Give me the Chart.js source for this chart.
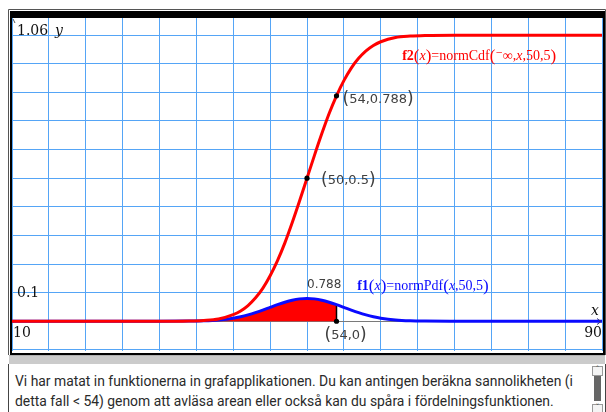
<!DOCTYPE html>
<html>
<head>
<meta charset="utf-8">
<script src="https://cdn.jsdelivr.net/npm/chart.js@4/dist/chart.umd.min.js"></script>
<style>
  html, body { margin: 0; padding: 0; background: #fff; }
  #wrap { position: relative; width: 606px; height: 412px; overflow: hidden; background: #fff; }
  #graph { position: absolute; left: 0; top: 0; }
  #band { position: absolute; left: 9px; top: 355px; width: 596px; height: 9px; background: #cbcbcb; border-top: 1px solid #b0b0b0; box-sizing: border-box; }
  #panel { position: absolute; left: 8px; top: 364px; width: 598px; height: 48px; border-left: 1px solid #444; border-right: 1px solid #444; box-sizing: border-box; background: #fff; }
  #note { position: absolute; left: 6px; top: 7px; width: 570px; font: 13.9px Roboto, "Noto Sans", sans-serif; line-height: 20px; color: #2a2a2a; white-space: nowrap; }
  #scroll { position: absolute; left: 583px; top: 2px; width: 11px; height: 46px; }
  .arrow { position: absolute; left: 0; width: 9px; height: 8px; border: 1px solid #9a9a9a; background: #f4f4f4; font: 8px "DejaVu Sans", sans-serif; line-height: 8px; text-align: center; color: #555; }
  #thumb { position: absolute; left: 2px; top: 10px; width: 7px; height: 25px; background: #666; }
</style>
</head>
<body>
<div id="wrap">
  <canvas id="graph" width="606" height="355"></canvas>
  <div id="band"></div>
  <div id="panel">
    <div id="note">Vi har matat in funktionerna in grafapplikationen. Du kan antingen beräkna sannolikheten (i<br>detta fall &lt; 54) genom att avläsa arean eller också kan du spåra i fördelningsfunktionen.</div>
    <div id="scroll">
      <div class="arrow" style="top:0">&#710;</div>
      <div id="thumb"></div>
      <div class="arrow" style="top:38px">&#711;</div>
    </div>
  </div>
</div>
<script>
// Window of the graph
const xMin = 10, xMax = 90;
const yMin = -0.104, yMax = 1.06;
const xGridTicks = [10, 15, 20, 25, 30, 35, 40, 45, 50, 55, 60, 65, 70, 75, 80, 85, 90];
const yGridTicks = [-0.1, 0, 0.1, 0.2, 0.3, 0.4, 0.5, 0.6, 0.7, 0.8, 0.9, 1.0];

// Sampled curve values: f2 = normCdf(-inf, x, 50, 5), f1 = normPdf(x, 50, 5)
const xs  = [10, 20, 30, 34, 36, 38, 40, 41, 42, 43, 44, 45, 46, 47, 48, 49, 50,
             51, 52, 53, 54, 55, 56, 57, 58, 59, 60, 62, 64, 66, 70, 80, 90];
const cdf = [0, 0, 0, 0.001, 0.003, 0.008, 0.023, 0.036, 0.055, 0.081, 0.115, 0.159, 0.212, 0.274, 0.345, 0.421, 0.5,
             0.579, 0.655, 0.726, 0.788, 0.841, 0.885, 0.919, 0.945, 0.964, 0.977, 0.992, 0.997, 0.999, 1, 1, 1];
const pdf = [0, 0, 0, 0.0005, 0.0016, 0.0045, 0.0108, 0.0158, 0.0222, 0.0299, 0.0388, 0.0484, 0.0579, 0.0666, 0.0737, 0.0782, 0.0798,
             0.0782, 0.0737, 0.0666, 0.0579, 0.0484, 0.0388, 0.0299, 0.0222, 0.0158, 0.0108, 0.0045, 0.0016, 0.0005, 0, 0, 0];

// Shaded area bound and its value
const areaUpper = 54;
const areaValue = 0.788;

// Traced points
const tracePts = [
  { x: 54, y: 0.788 },
  { x: 50, y: 0.5 },
  { x: 54, y: 0 }
];

const RED = '#ff0000', BLUE = '#0a0aff', GRID = '#55a5f6';

const pts = (ys) => xs.map((x, i) => ({ x, y: ys[i] }));
const areaPts = xs.map((x, i) => ({ x, y: pdf[i] })).filter(p => p.x <= areaUpper);
const pdfAtUpper = pdf[xs.indexOf(areaUpper)];

function rich(ctx, x, y, parts, color) {
  ctx.fillStyle = color;
  ctx.textBaseline = 'alphabetic';
  ctx.textAlign = 'left';
  for (const [font, t, dy] of parts) {
    ctx.font = font;
    ctx.fillText(t, x, y + (dy || 0));
    x += ctx.measureText(t).width;
  }
  return x;
}

const SERIF = '"Liberation Serif", "DejaVu Serif", serif';
const decor = {
  id: 'decor',
  beforeDatasetsDraw(chart) {
    const { ctx, chartArea: a, scales: { y } } = chart;
    const y0 = Math.round(y.getPixelForValue(0)) + 0.5;
    ctx.save();
    // x axis
    ctx.strokeStyle = '#7a7a7a';
    ctx.lineWidth = 1.2;
    ctx.beginPath();
    ctx.moveTo(a.left, y0); ctx.lineTo(a.right - 1, y0);
    ctx.stroke();
    ctx.restore();
  },
  afterDatasetsDraw(chart) {
    const { ctx, chartArea: a, scales: { x, y } } = chart;
    ctx.save();
    // axis arrow heads
    const y0 = Math.round(y.getPixelForValue(0)) + 0.5;
    ctx.strokeStyle = '#303080';
    ctx.lineWidth = 1;
    ctx.beginPath();
    ctx.moveTo(a.right - 5, y0 - 3); ctx.lineTo(a.right - 1, y0); ctx.lineTo(a.right - 5, y0 + 3);
    ctx.stroke();
    ctx.strokeStyle = '#555';
    ctx.beginPath();
    ctx.moveTo(a.left + 1, a.top + 1); ctx.lineTo(a.left + 3, a.top + 5);
    ctx.stroke();

    // window labels
    ctx.fillStyle = '#111';
    ctx.font = '14px "DejaVu Serif", serif';
    ctx.textBaseline = 'middle';
    ctx.textAlign = 'left';
    ctx.fillText('1.06', a.left + 5, a.top + 13);
    ctx.fillText('0.1', a.left + 5, y.getPixelForValue(0.1) + 1);
    ctx.fillText('10', a.left + 1, y.getPixelForValue(0) + 12);
    ctx.textAlign = 'right';
    ctx.fillText('90', a.right, y.getPixelForValue(0) + 12);
    ctx.font = 'italic 14px "DejaVu Serif", serif';
    ctx.textAlign = 'left';
    ctx.fillText('y', a.left + 43, a.top + 13);
    ctx.fillText('x', a.right - 11, y.getPixelForValue(0) - 10);

    // traced point labels
    ctx.fillStyle = '#404040';
    const lab = (p, px, py) => {
      const L = '17px "DejaVu Sans", sans-serif', S = '13px "DejaVu Sans", sans-serif';
      ctx.textBaseline = 'middle';
      let cx = px;
      for (const [f, t] of [[L, '('], [S, p.x + ',' + p.y], [L, ')']]) {
        ctx.font = f; ctx.fillText(t, cx, py); cx += ctx.measureText(t).width;
      }
    };
    const P = tracePts;
    lab(P[0], x.getPixelForValue(P[0].x) + 6, y.getPixelForValue(P[0].y) + 4);
    lab(P[1], x.getPixelForValue(P[1].x) + 14, y.getPixelForValue(P[1].y) + 2);
    lab(P[2], x.getPixelForValue(P[2].x) - 12, y.getPixelForValue(P[2].y) + 14);

    // area value
    ctx.font = '12px "DejaVu Sans", sans-serif';
    ctx.textBaseline = 'middle';
    ctx.fillText(String(areaValue), x.getPixelForValue(50), y.getPixelForValue(0.127));

    // function labels
    const N = '14px ' + SERIF, B = 'bold 14px ' + SERIF, I = 'italic 14px ' + SERIF, BIG = '17px ' + SERIF;
    rich(ctx, x.getPixelForValue(62.9), y.getPixelForValue(0.913), [
      [B, 'f2'], [BIG, '(', 1], [I, 'x'], [BIG, ')', 1], [N, '=normCdf'], [BIG, '(', 1],
      [N, '⁻∞,'], [I, 'x'], [N, ',50,5'], [BIG, ')', 1]
    ], RED);
    rich(ctx, x.getPixelForValue(56.8), y.getPixelForValue(0.11), [
      [B, 'f1'], [BIG, '(', 1], [I, 'x'], [BIG, ')', 1], [N, '=normPdf'], [BIG, '(', 1],
      [I, 'x'], [N, ',50,5'], [BIG, ')', 1]
    ], BLUE);

    // frame of the graph view
    ctx.fillStyle = '#000';
    ctx.fillRect(11, 11, 594, 7);       // top bar
    ctx.fillRect(10, 11, 2, 344);       // left border
    ctx.fillRect(603, 11, 2, 344);      // right border
    ctx.fillRect(10, 353, 595, 2);      // bottom border
    ctx.strokeStyle = '#555';
    ctx.lineWidth = 1;
    ctx.beginPath();
    ctx.moveTo(8.5, 355); ctx.lineTo(8.5, 9.5); ctx.lineTo(605.5, 9.5); ctx.lineTo(605.5, 355);
    ctx.stroke();
    ctx.restore();
  }
};

new Chart(document.getElementById('graph'), {
  type: 'line',
  data: {
    datasets: [
      { label: 'points', data: tracePts, showLine: false, pointRadius: 2.6, pointBackgroundColor: '#000',
        pointBorderWidth: 0, order: 0 },
      { label: 'f2', data: pts(cdf), borderColor: RED, borderWidth: 3, pointRadius: 0,
        cubicInterpolationMode: 'monotone', fill: false, order: 1 },
      { label: 'f1', data: pts(pdf), borderColor: BLUE, borderWidth: 3, pointRadius: 0,
        cubicInterpolationMode: 'monotone', fill: false, order: 2 },
      { label: 'bound', data: [{ x: areaUpper, y: 0 }, { x: areaUpper, y: pdfAtUpper }], borderColor: '#000',
        borderWidth: 1.5, pointRadius: 0, fill: false, order: 3 },
      { label: 'area', data: areaPts, borderWidth: 0, borderColor: 'rgba(0,0,0,0)', backgroundColor: RED,
        pointRadius: 0, cubicInterpolationMode: 'monotone', fill: 'origin', order: 4 }
    ]
  },
  options: {
    responsive: false,
    animation: false,
    devicePixelRatio: 1,
    layout: { padding: { left: 12, right: 3, top: 18, bottom: 2 } },
    plugins: { legend: { display: false }, tooltip: { enabled: false } },
    scales: {
      x: {
        type: 'linear', min: xMin, max: xMax,
        afterBuildTicks: s => { s.ticks = xGridTicks.map(v => ({ value: v })); },
        ticks: { display: false },
        border: { display: false },
        grid: { color: GRID, lineWidth: 1, drawTicks: false }
      },
      y: {
        type: 'linear', min: yMin, max: yMax,
        afterBuildTicks: s => { s.ticks = yGridTicks.map(v => ({ value: v })); },
        ticks: { display: false },
        border: { display: false },
        grid: { color: GRID, lineWidth: 1, drawTicks: false }
      }
    }
  },
  plugins: [decor]
});
</script>
</body>
</html>
